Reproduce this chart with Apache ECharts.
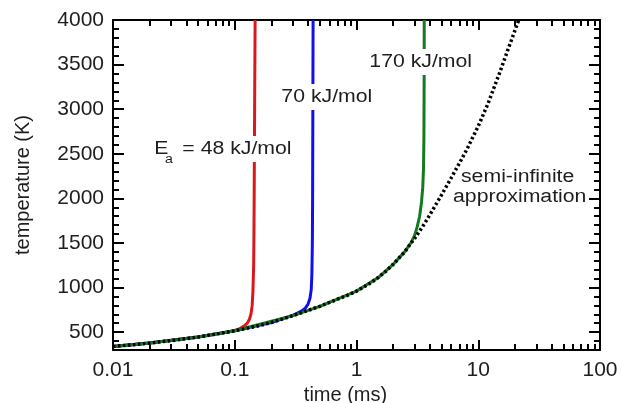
<!DOCTYPE html>
<html><head><meta charset="utf-8">
<script src="https://cdn.jsdelivr.net/npm/echarts@6/dist/echarts.min.js"></script>
<style>html,body{margin:0;padding:0;background:#fff}#c{width:621px;height:403px}</style>
</head><body><div id="c"></div>
<script>
// time (ms), temperature (K)
const semiInfinite = [[0.01,340],[0.015,360],[0.02,378],[0.03,405],[0.05,445],[0.07,478],[0.1,515],[0.15,565],[0.2,608],[0.3,685],[0.5,790],[0.7,870],[0.85,915],[1,960],[1.25,1035],[1.5,1110],[1.75,1185],[2,1260],[2.5,1405],[3,1550],[3.5,1685],[4,1815],[5,2040],[6,2230],[7,2395],[8,2540],[10,2810],[12,3060],[15,3410],[18,3710],[21.5,4000]];
const ea48 = [[0.01,340],[0.02,378],[0.05,445],[0.08,492],[0.1,520],[0.11,540],[0.12,570],[0.127,603],[0.132,645],[0.136,705],[0.139,800],[0.141,950],[0.143,1250],[0.144,1700],[0.145,2500],[0.146,3300],[0.147,4000]];
const ea70 = [[0.01,340],[0.02,378],[0.05,445],[0.1,515],[0.2,608],[0.3,688],[0.35,732],[0.38,770],[0.4,815],[0.415,880],[0.425,980],[0.43,1150],[0.434,1500],[0.436,2000],[0.438,3000],[0.44,4000]];
const ea170 = [[0.01,340],[0.02,378],[0.05,445],[0.1,515],[0.3,685],[0.5,790],[1,960],[1.5,1110],[2,1260],[2.5,1405],[2.8,1500],[3.0,1585],[3.15,1680],[3.3,1800],[3.42,1960],[3.5,2120],[3.55,2330],[3.58,2700],[3.595,3400],[3.6,4000]];
const xMajorTicks = [0.01,0.1,1,10,100];
const xMinorTicks = [0.02,0.03,0.04,0.05,0.06,0.07,0.08,0.09,0.2,0.3,0.4,0.5,0.6,0.7,0.8,0.9,2,3,4,5,6,7,8,9,20,30,40,50,60,70,80,90];
const yMajorTicks = [500,1000,1500,2000,2500,3000,3500,4000];

const FONT = '"Liberation Sans", Arial, sans-serif';
const TXT = '#1e1e1e';
function xAx(pos, ticks, len, main){
  return {type:'log', logBase:10, min:0.01, max:100, position:pos,
    axisLine: main ? {show:true, lineStyle:{color:'#000', width:2}} : {show:false},
    axisTick:{show:true, inside:true, length:len, customValues:ticks, lineStyle:{color:'#000', width:2}},
    axisLabel: (main && pos==='bottom') ? {show:true, customValues:xMajorTicks, fontSize:21, fontFamily:FONT, color:TXT, margin:10,
      formatter:v=>String(+(+v).toPrecision(3))} : {show:false},
    splitLine:{show:false},
    name: (main && pos==='bottom') ? 'time (ms)' : '', nameLocation:'middle', nameGap:31,
    nameTextStyle:{fontSize:20, fontFamily:FONT, color:TXT, padding:[0,22,0,0]}};
}
function yMajor(pos){
  return {type:'value', min:300, max:4000, position:pos,
    axisLine:{show:true, lineStyle:{color:'#000', width:2}},
    axisTick:{show:true, inside:true, length:11, customValues:yMajorTicks, lineStyle:{color:'#000', width:2}},
    axisLabel: pos==='left' ? {show:true, customValues:yMajorTicks, fontSize:21, fontFamily:FONT, color:TXT, margin:9, formatter:v=>String(v)} : {show:false},
    splitLine:{show:false},
    name: pos==='left' ? 'temperature (K)' : '', nameLocation:'middle', nameGap:80,
    nameTextStyle:{fontSize:20, fontFamily:FONT, color:TXT}};
}
function yMinor(pos){
  return {type:'value', min:300, max:4000, interval:100, position:pos,
    axisLine:{show:false},
    axisTick:{show:true, inside:true, length:6, lineStyle:{color:'#000', width:2}},
    axisLabel:{show:false}, splitLine:{show:false}};
}
const chart = echarts.init(document.getElementById('c'), null, {renderer:'canvas'});
function lbl(text, x, y, bg, size){
  return {type:'text', x:x, y:y, scaleX:1.18, z:100,
    style:{text:text, x:0, y:0, font:(size||18)+'px '+FONT, fill:TXT, verticalAlign:'middle', align:'left',
      backgroundColor: bg ? '#fff' : null, padding: bg ? [4,2,4,2] : 0}};
}
chart.setOption({
  animation:false,
  backgroundColor:'#fff',
  grid:{left:113, right:21, top:20, bottom:53, containLabel:false, outerBoundsMode:'none'},
  xAxis:[xAx('bottom', xMajorTicks, 10, true), xAx('top', xMajorTicks, 10, true), xAx('bottom', xMinorTicks, 6, false), xAx('top', xMinorTicks, 6, false)],
  yAxis:[yMajor('left'), yMajor('right'), yMinor('left'), yMinor('right')],
  series:[
    {type:'line', data:ea48, showSymbol:false, lineStyle:{color:'#d8181c', width:3}, z:2},
    {type:'line', data:ea70, showSymbol:false, lineStyle:{color:'#1010ee', width:3}, z:2},
    {type:'line', data:ea170, showSymbol:false, lineStyle:{color:'#157a1e', width:3}, z:2},
    {type:'line', data:semiInfinite, showSymbol:false, lineStyle:{color:'#000', width:3.5, type:[2.5,2.5]}, z:3}
  ],
  graphic:[
    lbl('E', 152, 149, true),
    lbl('a', 165, 160, false, 12),
    lbl('= 48 kJ/mol', 180, 149, true),
    lbl('70 kJ/mol', 279, 97, true),
    lbl('170 kJ/mol', 367, 62, true),
    lbl('semi-infinite', 461, 177, false),
    lbl('approximation', 453, 197, false)
  ]
});
</script></body></html>
